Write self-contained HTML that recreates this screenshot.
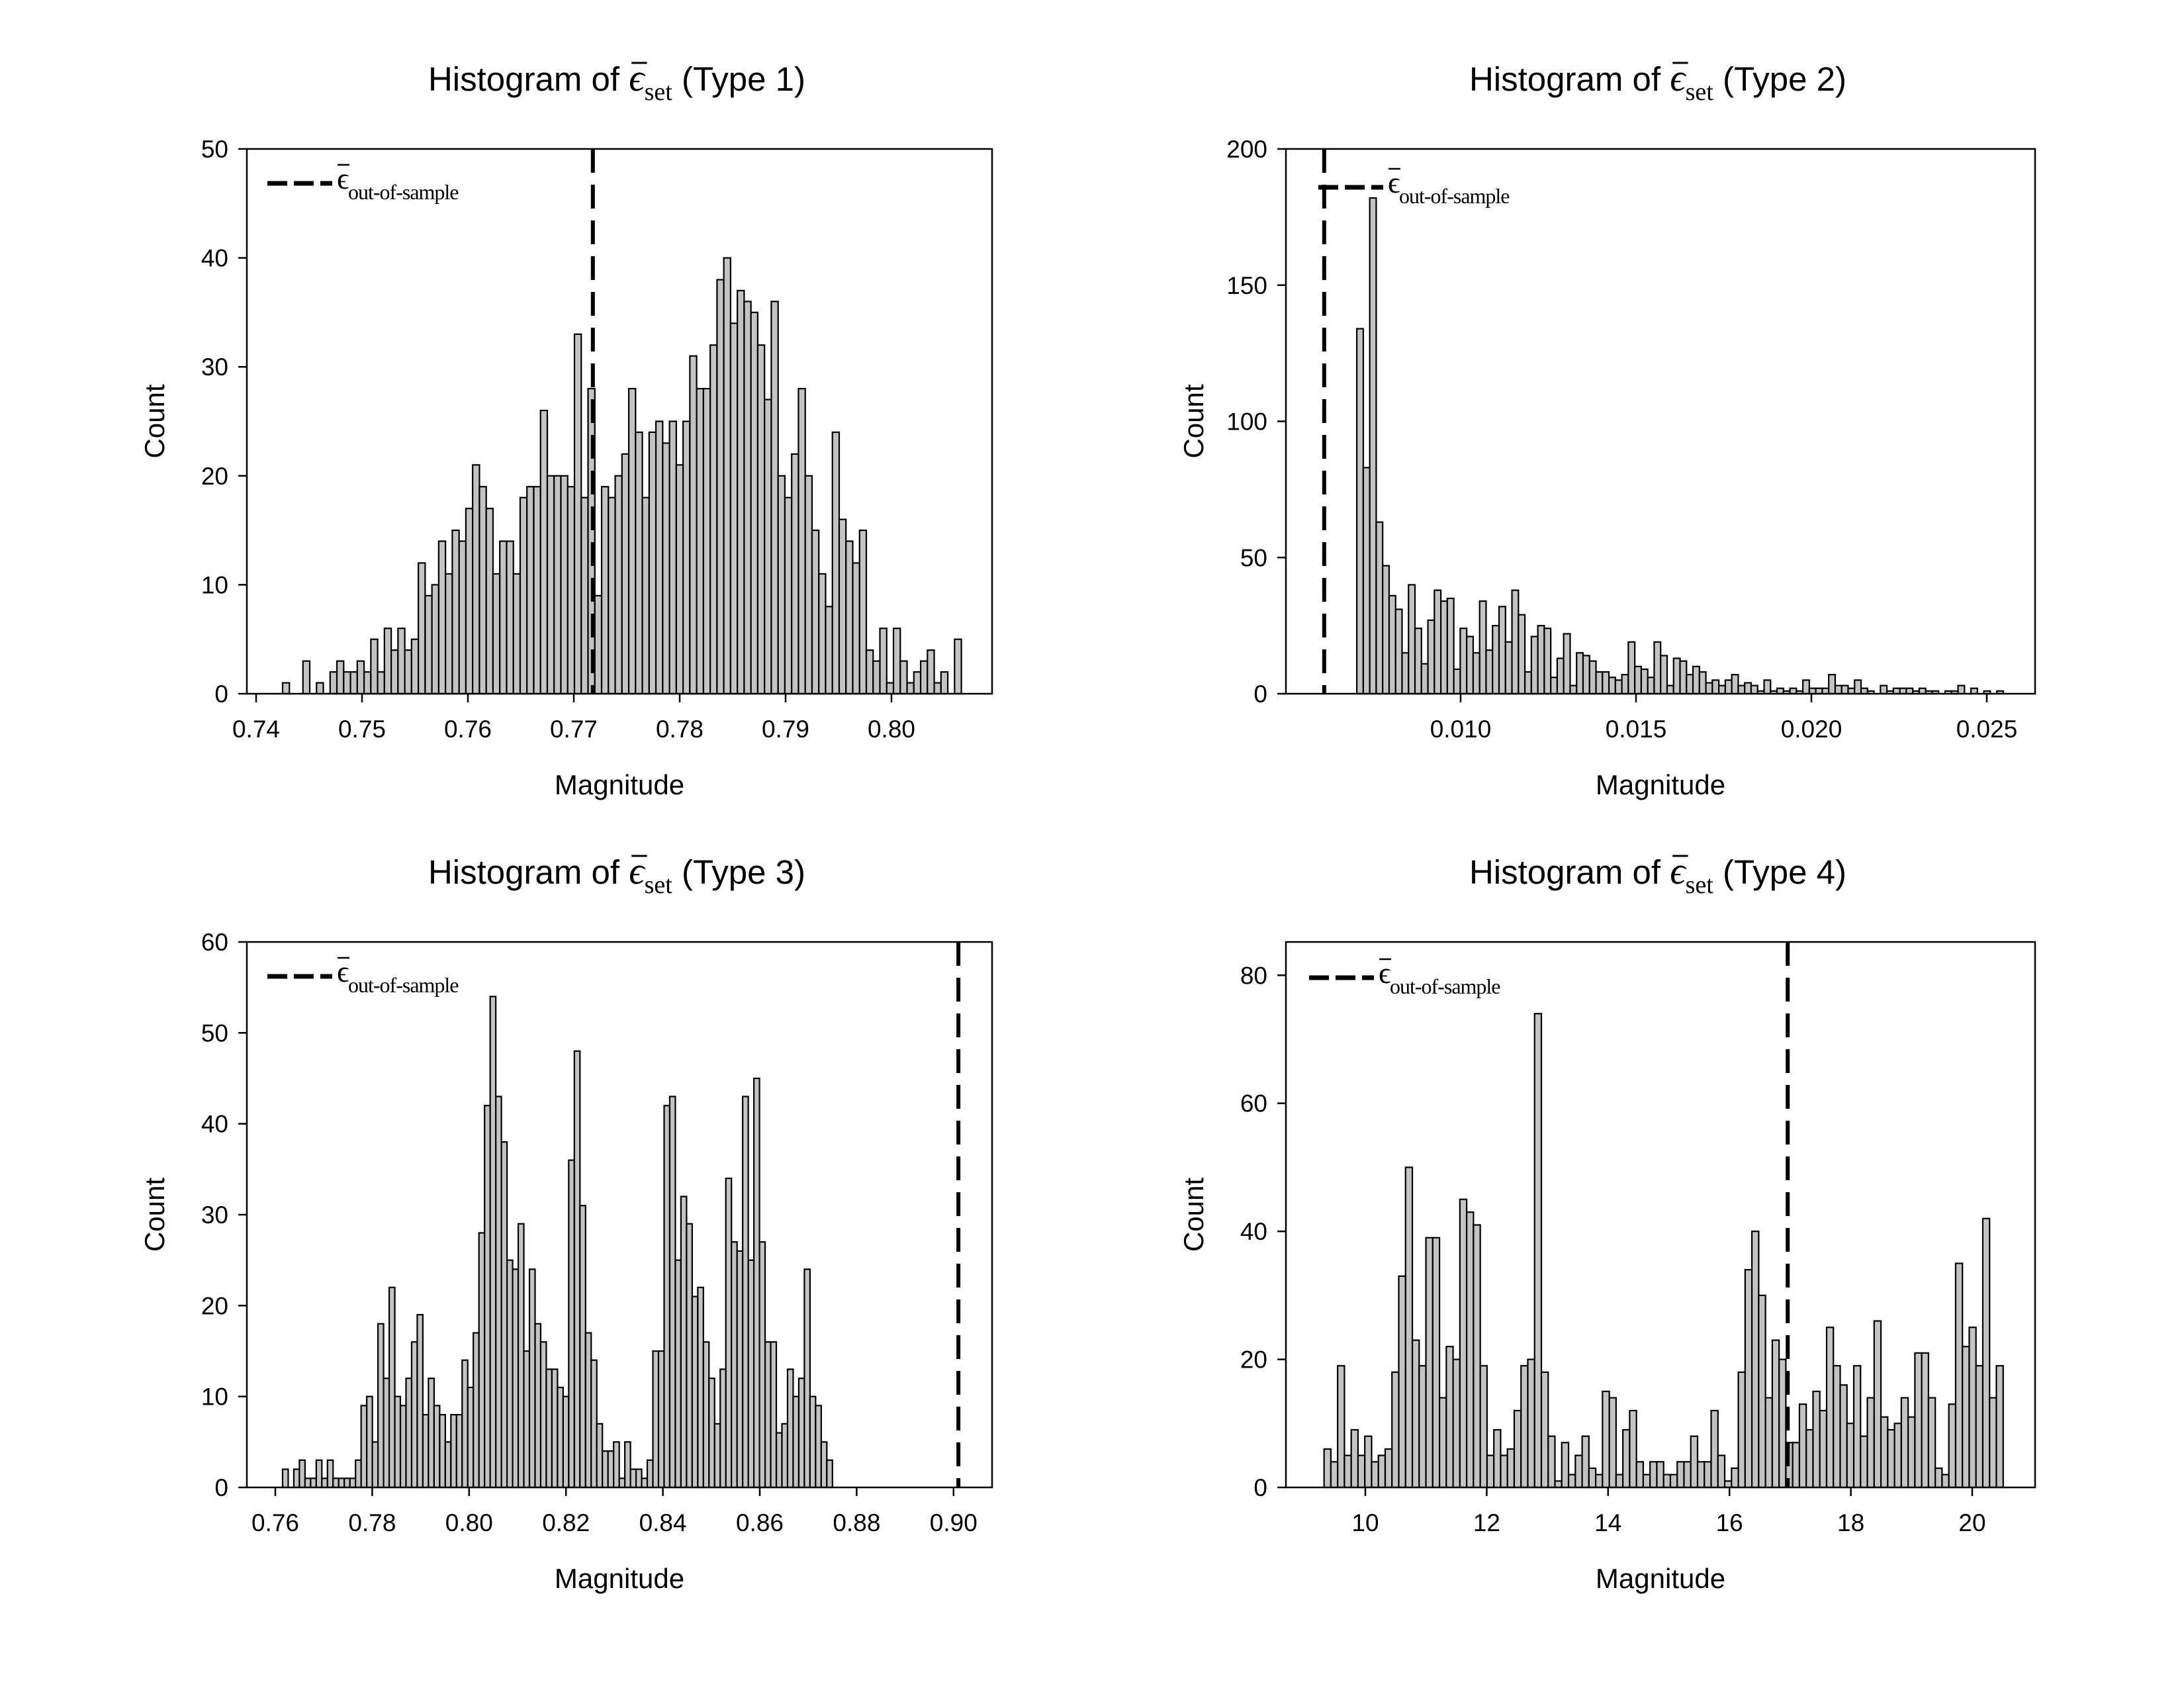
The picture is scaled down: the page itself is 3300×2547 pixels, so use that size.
<!DOCTYPE html>
<html><head><meta charset="utf-8"><style>
html,body{margin:0;padding:0;background:#fff}
svg{display:block}
text{font-family:"Liberation Sans",sans-serif;fill:#000}
.serif{font-family:"Liberation Serif",serif}
</style></head><body>
<svg id="fig" width="3300" height="2547" viewBox="0 0 3300 2547" xmlns="http://www.w3.org/2000/svg"></svg>
<script>
// Type 1 data
const counts1 = [1,0,0,3,0,1,0,2,3,2, 2,3,2,5,2,6,4,6,4,5, 12,9,10,14,11,15,14,17,21,19, 17,11,14,14,11,18,19,19,26,20, 20,20,19,33,18,28,9,19,18,20, 22,28,24,18,24,25,23,25,21,25, 31,28,28,32,38,40,34,37,36,35, 32,27,36,20,18,22,28,20,15,11, 8,24,16,14,12,15,4,3,6,1, 6,3,1,2,3,4,1,2,0,5];
const range1 = [0.7425, 0.8066];
const xticks1 = [0.74,0.75,0.76,0.77,0.78,0.79,0.80];
const xlabels1 = ["0.74","0.75","0.76","0.77","0.78","0.79","0.80"];
const yticks1 = [0,10,20,30,40,50];
const oos1 = 0.7718;
// Type 2 data
const counts2 = [134,83,182,63,47,36,31,15,40,24, 11,27,38,34,35,9,24,21,15,34, 16,25,32,19,38,29,8,21,25,24, 6,13,22,3,15,14,12,8,8,6, 5,7,19,10,9,6,19,14,3,13, 12,7,10,8,4,5,3,5,7,3, 4,3,1,5,1,2,1,2,1,5, 2,2,2,7,3,3,2,5,2,1, 0,3,1,2,2,2,1,2,1,1, 0,1,1,3,0,2,0,1,0,1];
const range2 = [0.00704, 0.02547];
const xticks2 = [0.010,0.015,0.020,0.025];
const xlabels2 = ["0.010","0.015","0.020","0.025"];
const yticks2 = [0,50,100,150,200];
const oos2 = 0.00611;
// Type 3 data
const counts3 = [2,0,2,3,1,1,3,1,3,1, 1,1,1,3,9,10,5,18,12,22, 10,9,12,16,19,8,12,9,8,5, 8,8,14,11,17,28,42,54,43,38, 25,24,29,15,24,18,16,13,13,11, 10,36,48,31,17,14,7,4,4,5, 1,5,2,2,1,3,15,15,42,43, 25,32,29,21,22,16,12,7,13,34, 27,26,43,25,45,27,16,16,6,7, 13,10,12,24,10,9,5,3];
const range3 = [0.7615, 0.8750];
const xticks3 = [0.76,0.78,0.80,0.82,0.84,0.86,0.88,0.90];
const xlabels3 = ["0.76","0.78","0.80","0.82","0.84","0.86","0.88","0.90"];
const yticks3 = [0,10,20,30,40,50,60];
const oos3 = 0.9010;
// Type 4 data
const counts4 = [6,4,19,5,9,5,8,4,5,6, 18,33,50,23,19,39,39,14,22,20, 45,43,41,19,5,9,5,6,12,19, 20,74,18,8,1,7,2,5,8,3, 2,15,14,2,9,12,4,2,4,4, 2,2,4,4,8,4,4,12,5,1, 3,18,34,40,30,14,23,20,7,7, 13,9,15,12,25,19,16,10,19,8, 14,26,11,9,10,14,11,21,21,14, 3,2,13,35,22,25,19,42,14,19];
const range4 = [9.32, 20.51];
const xticks4 = [10,12,14,16,18,20];
const xlabels4 = ["10","12","14","16","18","20"];
const yticks4 = [0,20,40,60,80];
const oos4 = 16.96;

const NS = "http://www.w3.org/2000/svg";
const svg = document.getElementById('fig');
function mk(tag, attrs, parent){
  const e = document.createElementNS(NS, tag);
  for (const k in attrs) e.setAttribute(k, attrs[k]);
  (parent||svg).appendChild(e);
  return e;
}

function panel(cfg){
  const g = mk('g', {});
  
  
  const L=cfg.L, R=cfg.R, T=cfg.T, B=cfg.B;
  const xs = v => cfg.x0px + (v - cfg.x0) * cfg.pxPer;
  const ys = v => B - (v / cfg.ymax) * (B - T);
  const n = cfg.counts.length;
  const bw = (cfg.range[1] - cfg.range[0]) / n;
  for (let i=0;i<n;i++){
    if (cfg.counts[i] <= 0) continue;
    const x1 = xs(cfg.range[0] + i*bw), x2 = xs(cfg.range[0] + (i+1)*bw);
    const y = ys(cfg.counts[i]);
    const r = mk('rect', {x:x1, y:y, width:x2-x1, height:B-y, fill:'#c3c3c3', stroke:'#000', 'stroke-width':2.2}, g);
    
    
  }
  const fr = mk('rect', {x:L, y:T, width:R-L, height:B-T, fill:'none', stroke:'#000', 'stroke-width':2.5}, g);
  
  
  cfg.yticks.forEach(v=>{
    const y = ys(v);
    mk('line',{x1:L-13,x2:L,y1:y,y2:y,stroke:'#000','stroke-width':2.5},g);
    const t = mk('text',{x:L-28,y:y+13,'font-size':37,'text-anchor':'end'},g);
    t.textContent = String(v);
    
    
  });
  cfg.xticks.forEach((v,i)=>{
    const x = xs(v);
    mk('line',{x1:x,x2:x,y1:B,y2:B+13,stroke:'#000','stroke-width':2.5},g);
    const t = mk('text',{x:x,y:B+66,'font-size':37,'text-anchor':'middle'},g);
    t.textContent = cfg.xlabels[i];
    
    
  });
  const ox = xs(cfg.oos);
  const dl = mk('line',{x1:ox,x2:ox,y1:T,y2:B,stroke:'#000','stroke-width':6,'stroke-dasharray':'36,18'},g);
  
  
  const lg = mk('g',{},g);
  
  
  const ly = cfg.legY;
  mk('line',{x1:cfg.legX,x2:cfg.legX+98,y1:ly,y2:ly,stroke:'#000','stroke-width':7,'stroke-dasharray':'30,10'},lg);
  const lt = mk('text',{x:cfg.legX+105,y:ly+8,'font-size':46,'class':'serif'},lg);
  lt.textContent = 'ϵ';
  mk('line',{x1:cfg.legX+106,x2:cfg.legX+124,y1:ly-28,y2:ly-28,stroke:'#000','stroke-width':2.5},lg);
  const ls = mk('text',{x:cfg.legX+122,y:ly+24,'font-size':32,'class':'serif','letter-spacing':'-1'},lg);
  ls.textContent = 'out-of-sample';
  const cx = (L+R)/2 - 4;
  const tt = mk('text',{x:cx,y:T-88,'font-size':51,'text-anchor':'middle'},g);
  
  
  const s1 = mk('tspan',{},tt); s1.textContent = 'Histogram of ';
  const s2 = mk('tspan',{'class':'serif','font-size':58,'font-style':'italic'},tt); s2.textContent = 'ϵ';
  const s3 = mk('tspan',{'class':'serif','font-size':38,dy:14},tt); s3.textContent = 'set';
  const s4 = mk('tspan',{dy:-14},tt); s4.textContent = ' (Type ' + cfg.n + ')';
  const xt = mk('text',{x:(L+R)/2,y:B+152,'font-size':42,'text-anchor':'middle'},g);
  xt.textContent = 'Magnitude';
  
  
  const yx = L-125, yy=(T+B)/2;
  const yt = mk('text',{x:yx,y:yy,'font-size':42,'text-anchor':'middle',transform:`rotate(-90 ${yx} ${yy})`},g);
  yt.textContent = 'Count';
  
  
  try{
    const n0 = 'Histogram of '.length;
    const ext = tt.getExtentOfChar(n0);
    mk('line',{x1:ext.x+4,x2:ext.x+ext.width+4,y1:T-130,y2:T-130,stroke:'#000','stroke-width':3},g);
  }catch(e){}
}

panel({n:1,L:373,R:1499,T:225,B:1048,x0:0.74,x0px:387,pxPer:16000,ymax:50,
  counts:counts1,range:range1,xticks:xticks1,xlabels:xlabels1,yticks:yticks1,oos:oos1,legX:404,legY:277});
panel({n:2,L:1943,R:3075,T:225,B:1048,x0:0.010,x0px:2207,pxPer:53000,ymax:200,
  counts:counts2,range:range2,xticks:xticks2,xlabels:xlabels2,yticks:yticks2,oos:oos2,legX:1992,legY:283});
panel({n:3,L:373,R:1499,T:1423,B:2247,x0:0.76,x0px:416,pxPer:7320,ymax:60,
  counts:counts3,range:range3,xticks:xticks3,xlabels:xlabels3,yticks:yticks3,oos:oos3,legX:404,legY:1475});
panel({n:4,L:1943,R:3075,T:1423,B:2247,x0:10,x0px:2063,pxPer:91.7,ymax:85.2,
  counts:counts4,range:range4,xticks:xticks4,xlabels:xlabels4,yticks:yticks4,oos:oos4,legX:1978,legY:1477});
</script>
</body></html>
